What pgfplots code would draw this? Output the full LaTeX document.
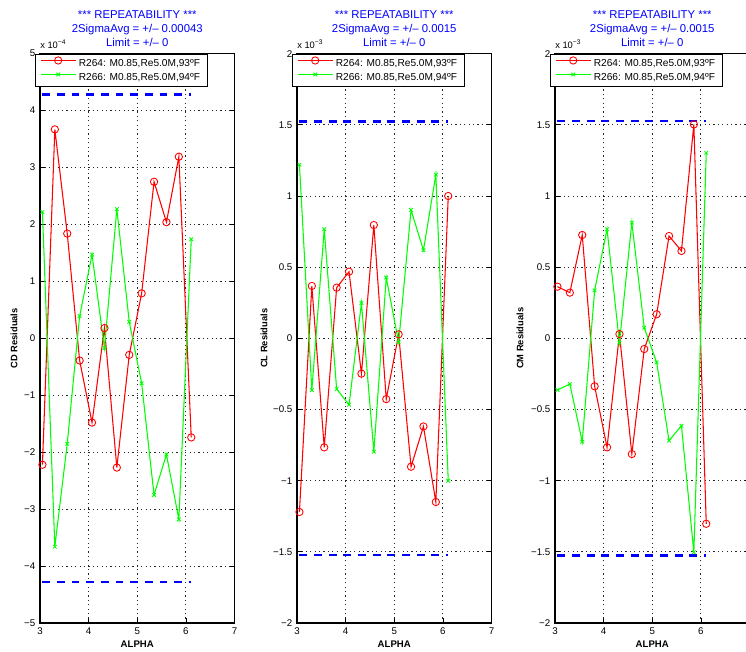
\documentclass[border=0pt]{standalone}
\usepackage{fontspec}
\setmainfont{Liberation Sans}
\usepackage{pgfplots}
\usepackage{pgfplotstable}
\pgfplotsset{compat=1.18}

\pgfplotstableread{
alpha   cdA        cdB        clA        clB        cmA        cmB
3.050  -2.22e-4    2.22e-4   -1.220e-3   1.220e-3   0.363e-3  -0.363e-3
3.305   3.67e-4   -3.66e-4    0.368e-3  -0.364e-3   0.321e-3  -0.321e-3
3.560   1.84e-4   -1.85e-4   -0.766e-3   0.766e-3   0.726e-3  -0.726e-3
3.815  -0.39e-4    0.39e-4    0.356e-3  -0.356e-3  -0.337e-3   0.337e-3
4.070  -1.48e-4    1.47e-4    0.468e-3  -0.466e-3  -0.766e-3   0.766e-3
4.325   0.18e-4   -0.17e-4   -0.248e-3   0.248e-3   0.030e-3  -0.030e-3
4.580  -2.27e-4    2.27e-4    0.796e-3  -0.796e-3  -0.813e-3   0.813e-3
4.835  -0.29e-4    0.29e-4   -0.427e-3   0.427e-3  -0.075e-3   0.075e-3
5.090   0.79e-4   -0.79e-4    0.028e-3  -0.028e-3   0.169e-3  -0.169e-3
5.345   2.75e-4   -2.75e-4   -0.902e-3   0.902e-3   0.719e-3  -0.719e-3
5.600   2.04e-4   -2.04e-4   -0.619e-3   0.619e-3   0.614e-3  -0.614e-3
5.855   3.19e-4   -3.18e-4   -1.150e-3   1.150e-3   1.503e-3  -1.503e-3
6.110  -1.74e-4    1.74e-4    1.000e-3  -1.000e-3  -1.303e-3   1.303e-3
}\resdata

\pgfplotsset{
  resstyle/.style={
    scale only axis, width=145.9pt, height=427pt,
    xmin=3, xmax=7, xtick={3,4,5,6,7},
    clip=false,
    tick align=inside, major tick length=3.75pt,
    xmajorgrids=true, ymajorgrids=true,
    major grid style={black!85, line width=0.75pt, dash pattern=on 0.9pt off 2.4pt},
    axis line style={line width=0.8pt},
    every tick/.style={black, line width=0.6pt},
    tick label style={font=\fontsize{7.3}{8}\selectfont},
    /pgf/number format/assume math mode=true,
    scaled y ticks=false,
    xlabel={ALPHA},
    xlabel style={font=\bfseries\fontsize{7.2}{8}\selectfont, at={(rel axis cs:0.5,0)}, anchor=center, yshift=-15.75pt},
    title style={font=\fontsize{8.5}{10.6}\selectfont, text=blue, align=center, at={(0.5,1)}, anchor=south, yshift=-1pt, inner sep=0pt},
    legend cell align=left,
    legend style={at={(0,1)}, anchor=north west, xshift=-3.75pt, draw=black, line width=0.6pt, fill=white,
      font=\fontsize{7.6}{8}\selectfont, inner xsep=3.6pt, inner ysep=1.75pt, row sep=0pt,
      nodes={inner xsep=1.9pt, inner ysep=1pt, text height=6.5pt, text depth=2pt}},
    legend image code/.code={\draw[mark repeat=2, mark phase=2, #1] plot coordinates {(0pt,2.2pt) (13.1pt,2.2pt) (26.25pt,2.2pt)};},
  },
  runA/.style={red, line width=0.8pt, mark=o, mark size=2.75pt, mark options={solid, line width=0.65pt}},
  runB/.style={green, line width=0.8pt, mark=x, mark size=1.9pt, mark options={solid, line width=0.65pt}},
  limline/.style={blue, line width=2pt, dash pattern=on 5.8pt off 5.2pt, forget plot},
}

\begin{document}
\begin{tikzpicture}
% ---- Panel 1: CD ----
\begin{axis}[resstyle, at={(30pt,21pt)}, anchor=south west,
  ymin=-5e-4, ymax=5e-4,
  ytick={-5e-4,-4e-4,-3e-4,-2e-4,-1e-4,0,1e-4,2e-4,3e-4,4e-4,5e-4},
  yticklabels={−5,−4,−3,−2,−1,0,1,2,3,4,5},
  ylabel={CD Residuals},
  ylabel style={font=\bfseries\fontsize{7}{8}\selectfont, at={(rel axis cs:0,0.5)}, anchor=center, yshift=19.5pt},
  title={*** REPEATABILITY ***\\2SigmaAvg = +/– 0.00043\\Limit = +/– 0},
  extra description/.code={\node[anchor=south west, inner sep=0pt, font=\fontsize{7}{8}\selectfont] at (0,1.008) {x 10\textsuperscript{−4}};},
]
\addplot[limline] coordinates {(3.05,4.28e-4) (6.11,4.28e-4)};
\addplot[limline] coordinates {(3.05,-4.28e-4) (6.11,-4.28e-4)};
\addplot[runA] table[x=alpha, y=cdA] {\resdata};
\addlegendentry{R264: M0.85,Re5.0M,93ºF}
\addplot[runB] table[x=alpha, y=cdB] {\resdata};
\addlegendentry{R266: M0.85,Re5.0M,94ºF}
\end{axis}
% ---- Panel 2: CL ----
\begin{axis}[resstyle, at={(222.75pt,21pt)}, anchor=south west,
  ymin=-2e-3, ymax=2e-3,
  ytick={-2e-3,-1.5e-3,-1e-3,-0.5e-3,0,0.5e-3,1e-3,1.5e-3,2e-3},
  yticklabels={−2,−1.5,−1,−0.5,0,0.5,1,1.5,2},
  ylabel={CL Residuals},
  ylabel style={font=\bfseries\fontsize{7}{8}\selectfont, at={(rel axis cs:0,0.5)}, anchor=center, yshift=24.75pt},
  title={*** REPEATABILITY ***\\2SigmaAvg = +/– 0.0015\\Limit = +/– 0},
  extra description/.code={\node[anchor=south west, inner sep=0pt, font=\fontsize{7}{8}\selectfont] at (0,1.008) {x 10\textsuperscript{−3}};},
]
\addplot[limline] coordinates {(3.05,1.522e-3) (6.11,1.522e-3)};
\addplot[limline] coordinates {(3.05,-1.522e-3) (6.11,-1.522e-3)};
\addplot[runA] table[x=alpha, y=clA] {\resdata};
\addlegendentry{R264: M0.85,Re5.0M,93ºF}
\addplot[runB] table[x=alpha, y=clB] {\resdata};
\addlegendentry{R266: M0.85,Re5.0M,94ºF}
\end{axis}
% ---- Panel 3: CM ----
\begin{axis}[resstyle, at={(416.25pt,21pt)}, anchor=south west,
  xticklabels={3,4,5,6,{}},
  ymin=-2e-3, ymax=2e-3,
  ytick={-2e-3,-1.5e-3,-1e-3,-0.5e-3,0,0.5e-3,1e-3,1.5e-3,2e-3},
  yticklabels={−2,−1.5,−1,−0.5,0,0.5,1,1.5,2},
  ylabel={CM Residuals},
  ylabel style={font=\bfseries\fontsize{7}{8}\selectfont, at={(rel axis cs:0,0.5)}, anchor=center, yshift=26.25pt},
  title={*** REPEATABILITY ***\\2SigmaAvg = +/– 0.0015\\Limit = +/– 0},
  extra description/.code={\node[anchor=south west, inner sep=0pt, font=\fontsize{7}{8}\selectfont] at (0,1.008) {x 10\textsuperscript{−3}};},
]
\addplot[limline] coordinates {(3.05,1.527e-3) (6.11,1.527e-3)};
\addplot[limline] coordinates {(3.05,-1.527e-3) (6.11,-1.527e-3)};
\addplot[runA] table[x=alpha, y=cmA] {\resdata};
\addlegendentry{R264: M0.85,Re5.0M,93ºF}
\addplot[runB] table[x=alpha, y=cmB] {\resdata};
\addlegendentry{R266: M0.85,Re5.0M,94ºF}
\end{axis}
\pgfresetboundingbox
\path[use as bounding box] (0pt,0pt) rectangle (559.5pt,488.25pt);
\end{tikzpicture}
\end{document}
